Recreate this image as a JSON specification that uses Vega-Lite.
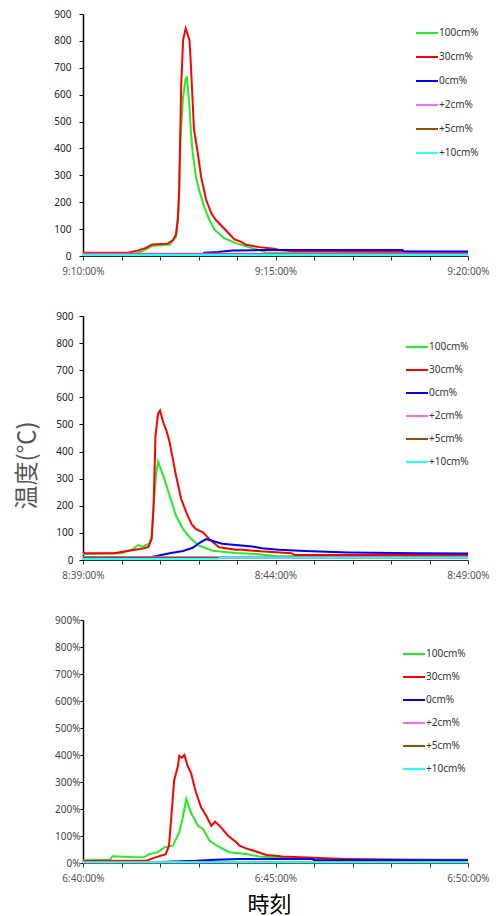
{
  "$schema": "https://vega.github.io/schema/vega-lite/v6.json",
  "background": "white",
  "padding": {"left": 15, "top": 9, "right": 0, "bottom": 0},
  "spacing": 35,
  "resolve": {"scale": {"color": "independent"}},
  "config": {
    "view": {"stroke": null},
    "axis": {"labelFont": "Noto Sans", "titleFont": "Noto Sans CJK JP", "grid": false, "titleFontWeight": "normal"},
    "legend": {"title": null, "orient": "none", "symbolType": "stroke", "symbolSize": 484, "symbolStrokeWidth": 2, "labelFont": "Noto Sans", "labelFontSize": 10, "labelColor": "#333", "labelOffset": 0, "rowPadding": 6, "padding": 0}
  },
  "vconcat": [
    {
      "width": 385, "height": 242,
      "data": {"format": {"parse": {"t": "date:'%H:%M:%S'"}}, "values": [
        {"t":"09:10:00","s":"100cm%","v":8},{"t":"09:11:20","s":"100cm%","v":8},{"t":"09:11:35","s":"100cm%","v":20},{"t":"09:11:48","s":"100cm%","v":38},{"t":"09:12:15","s":"100cm%","v":42},{"t":"09:12:25","s":"100cm%","v":72},{"t":"09:12:29","s":"100cm%","v":183},{"t":"09:12:32","s":"100cm%","v":444},{"t":"09:12:36","s":"100cm%","v":593},{"t":"09:12:40","s":"100cm%","v":660},{"t":"09:12:42","s":"100cm%","v":665},{"t":"09:12:46","s":"100cm%","v":555},{"t":"09:12:48","s":"100cm%","v":469},{"t":"09:12:51","s":"100cm%","v":382},{"t":"09:12:56","s":"100cm%","v":295},{"t":"09:13:01","s":"100cm%","v":245},{"t":"09:13:09","s":"100cm%","v":183},{"t":"09:13:17","s":"100cm%","v":134},{"t":"09:13:25","s":"100cm%","v":97},{"t":"09:13:32","s":"100cm%","v":84},{"t":"09:13:40","s":"100cm%","v":66},{"t":"09:13:59","s":"100cm%","v":47},{"t":"09:14:19","s":"100cm%","v":32},{"t":"09:14:35","s":"100cm%","v":22},{"t":"09:14:45","s":"100cm%","v":13},{"t":"09:15:40","s":"100cm%","v":10},{"t":"09:20:00","s":"100cm%","v":10},
        {"t":"09:10:00","s":"30cm%","v":12},{"t":"09:11:10","s":"30cm%","v":12},{"t":"09:11:25","s":"30cm%","v":20},{"t":"09:11:38","s":"30cm%","v":30},{"t":"09:11:48","s":"30cm%","v":43},{"t":"09:12:12","s":"30cm%","v":46},{"t":"09:12:20","s":"30cm%","v":58},{"t":"09:12:25","s":"30cm%","v":80},{"t":"09:12:28","s":"30cm%","v":140},{"t":"09:12:30","s":"30cm%","v":258},{"t":"09:12:33","s":"30cm%","v":630},{"t":"09:12:36","s":"30cm%","v":803},{"t":"09:12:40","s":"30cm%","v":847},{"t":"09:12:46","s":"30cm%","v":803},{"t":"09:12:48","s":"30cm%","v":717},{"t":"09:12:51","s":"30cm%","v":568},{"t":"09:12:53","s":"30cm%","v":469},{"t":"09:12:59","s":"30cm%","v":382},{"t":"09:13:04","s":"30cm%","v":295},{"t":"09:13:12","s":"30cm%","v":208},{"t":"09:13:20","s":"30cm%","v":159},{"t":"09:13:27","s":"30cm%","v":134},{"t":"09:13:32","s":"30cm%","v":122},{"t":"09:13:43","s":"30cm%","v":95},{"t":"09:13:56","s":"30cm%","v":62},{"t":"09:14:04","s":"30cm%","v":55},{"t":"09:14:14","s":"30cm%","v":42},{"t":"09:14:35","s":"30cm%","v":33},{"t":"09:14:58","s":"30cm%","v":27},{"t":"09:15:06","s":"30cm%","v":22},{"t":"09:15:30","s":"30cm%","v":18},{"t":"09:20:00","s":"30cm%","v":15},
        {"t":"09:10:00","s":"0cm%","v":3},{"t":"09:13:05","s":"0cm%","v":3},{"t":"09:13:09","s":"0cm%","v":12},{"t":"09:13:30","s":"0cm%","v":15},{"t":"09:13:53","s":"0cm%","v":20},{"t":"09:14:35","s":"0cm%","v":22},{"t":"09:18:18","s":"0cm%","v":22},{"t":"09:18:20","s":"0cm%","v":17},{"t":"09:20:00","s":"0cm%","v":17},
        {"t":"09:10:00","s":"+2cm%","v":8},{"t":"09:20:00","s":"+2cm%","v":8},
        {"t":"09:10:00","s":"+5cm%","v":6},{"t":"09:20:00","s":"+5cm%","v":6},
        {"t":"09:10:00","s":"+10cm%","v":4},{"t":"09:20:00","s":"+10cm%","v":4}
      ]},
      "mark": {"type": "line", "strokeWidth": 2},
      "encoding": {
        "x": {"field": "t", "type": "temporal",
          "scale": {"domain": [{"year":1900,"month":1,"date":1,"hours":9,"minutes":10},{"year":1900,"month":1,"date":1,"hours":9,"minutes":20}]},
          "axis": {"title": null, "format": "%-H:%M:%S%%", "labelExpr": "minutes(datum.value) % 5 == 0 ? datum.label : ''",
            "values": [{"year":1900,"month":1,"date":1,"hours":9,"minutes":10},{"year":1900,"month":1,"date":1,"hours":9,"minutes":11},{"year":1900,"month":1,"date":1,"hours":9,"minutes":12},{"year":1900,"month":1,"date":1,"hours":9,"minutes":13},{"year":1900,"month":1,"date":1,"hours":9,"minutes":14},{"year":1900,"month":1,"date":1,"hours":9,"minutes":15},{"year":1900,"month":1,"date":1,"hours":9,"minutes":16},{"year":1900,"month":1,"date":1,"hours":9,"minutes":17},{"year":1900,"month":1,"date":1,"hours":9,"minutes":18},{"year":1900,"month":1,"date":1,"hours":9,"minutes":19},{"year":1900,"month":1,"date":1,"hours":9,"minutes":20}],
            "labelFlush": false, "labelOverlap": false, "labelFontSize": 10, "labelColor": "#555", "tickSize": 4, "labelPadding": 6, "labelDx": 3, "domainColor": "#333", "tickColor": "#333"}},
        "y": {"field": "v", "type": "quantitative", "scale": {"domain": [0, 900]},
          "axis": {"title": null, "values": [0,100,200,300,400,500,600,700,800,900], "labelFontSize": 10, "labelColor": "#222", "tickSize": 4, "labelPadding": 8, "domainColor": "#000", "domainWidth": 1.5, "tickColor": "#000"}},
        "color": {"field": "s", "type": "nominal",
          "scale": {"domain": ["100cm%","30cm%","0cm%","+2cm%","+5cm%","+10cm%"], "range": ["#22ee22","#ff0000","#0000ff","#ff66ff","#994d00","#22ffff"]},
          "legend": {"legendX": 332, "legendY": 7, "symbolSize": 484, "symbolStrokeWidth": 2, "rowPadding": 7, "labelOffset": 0,
            "encode": {"symbols": {"update": {"size": {"value": 484}, "strokeWidth": {"value": 2}}}}}}
      }
    },
    {
      "width": 385, "height": 244,
      "data": {"format": {"parse": {"t": "date:'%H:%M:%S'"}}, "values": [
        {"t":"08:39:00","s":"100cm%","v":22},{"t":"08:40:00","s":"100cm%","v":25},{"t":"08:40:18","s":"100cm%","v":40},{"t":"08:40:26","s":"100cm%","v":55},{"t":"08:40:33","s":"100cm%","v":48},{"t":"08:40:43","s":"100cm%","v":60},{"t":"08:40:47","s":"100cm%","v":84},{"t":"08:40:50","s":"100cm%","v":200},{"t":"08:40:54","s":"100cm%","v":320},{"t":"08:40:57","s":"100cm%","v":363},{"t":"08:41:05","s":"100cm%","v":311},{"t":"08:41:15","s":"100cm%","v":237},{"t":"08:41:25","s":"100cm%","v":163},{"t":"08:41:36","s":"100cm%","v":114},{"t":"08:41:46","s":"100cm%","v":84},{"t":"08:42:01","s":"100cm%","v":53},{"t":"08:42:22","s":"100cm%","v":34},{"t":"08:42:58","s":"100cm%","v":26},{"t":"08:43:30","s":"100cm%","v":22},{"t":"08:44:00","s":"100cm%","v":15},{"t":"08:49:00","s":"100cm%","v":14},
        {"t":"08:39:00","s":"30cm%","v":30},{"t":"08:39:03","s":"30cm%","v":25},{"t":"08:39:48","s":"30cm%","v":25},{"t":"08:40:14","s":"30cm%","v":35},{"t":"08:40:33","s":"30cm%","v":42},{"t":"08:40:42","s":"30cm%","v":48},{"t":"08:40:47","s":"30cm%","v":77},{"t":"08:40:50","s":"30cm%","v":200},{"t":"08:40:53","s":"30cm%","v":459},{"t":"08:40:57","s":"30cm%","v":539},{"t":"08:41:00","s":"30cm%","v":551},{"t":"08:41:05","s":"30cm%","v":508},{"t":"08:41:10","s":"30cm%","v":477},{"t":"08:41:15","s":"30cm%","v":434},{"t":"08:41:20","s":"30cm%","v":373},{"t":"08:41:25","s":"30cm%","v":311},{"t":"08:41:33","s":"30cm%","v":225},{"t":"08:41:41","s":"30cm%","v":176},{"t":"08:41:49","s":"30cm%","v":133},{"t":"08:41:56","s":"30cm%","v":114},{"t":"08:42:07","s":"30cm%","v":102},{"t":"08:42:17","s":"30cm%","v":77},{"t":"08:42:32","s":"30cm%","v":47},{"t":"08:42:58","s":"30cm%","v":38},{"t":"08:43:08","s":"30cm%","v":38},{"t":"08:43:36","s":"30cm%","v":32},{"t":"08:44:25","s":"30cm%","v":25},{"t":"08:44:30","s":"30cm%","v":18},{"t":"08:49:00","s":"30cm%","v":18},
        {"t":"08:39:00","s":"0cm%","v":10},{"t":"08:40:44","s":"0cm%","v":10},{"t":"08:40:55","s":"0cm%","v":15},{"t":"08:41:15","s":"0cm%","v":25},{"t":"08:41:36","s":"0cm%","v":33},{"t":"08:41:51","s":"0cm%","v":45},{"t":"08:42:01","s":"0cm%","v":62},{"t":"08:42:12","s":"0cm%","v":77},{"t":"08:42:22","s":"0cm%","v":70},{"t":"08:42:37","s":"0cm%","v":60},{"t":"08:42:58","s":"0cm%","v":55},{"t":"08:43:24","s":"0cm%","v":50},{"t":"08:43:39","s":"0cm%","v":43},{"t":"08:44:05","s":"0cm%","v":38},{"t":"08:44:46","s":"0cm%","v":33},{"t":"08:45:53","s":"0cm%","v":28},{"t":"08:47:41","s":"0cm%","v":25},{"t":"08:49:00","s":"0cm%","v":24},
        {"t":"08:39:00","s":"+2cm%","v":10},{"t":"08:49:00","s":"+2cm%","v":10},
        {"t":"08:39:00","s":"+5cm%","v":8},{"t":"08:49:00","s":"+5cm%","v":8},
        {"t":"08:39:00","s":"+10cm%","v":4},{"t":"08:42:30","s":"+10cm%","v":5},{"t":"08:42:35","s":"+10cm%","v":8},{"t":"08:49:00","s":"+10cm%","v":8}
      ]},
      "mark": {"type": "line", "strokeWidth": 2},
      "encoding": {
        "x": {"field": "t", "type": "temporal",
          "scale": {"domain": [{"year":1900,"month":1,"date":1,"hours":8,"minutes":39},{"year":1900,"month":1,"date":1,"hours":8,"minutes":49}]},
          "axis": {"title": null, "format": "%-H:%M:%S%%", "labelExpr": "(minutes(datum.value) - 39) % 5 == 0 ? datum.label : ''",
            "values": [{"year":1900,"month":1,"date":1,"hours":8,"minutes":39},{"year":1900,"month":1,"date":1,"hours":8,"minutes":40},{"year":1900,"month":1,"date":1,"hours":8,"minutes":41},{"year":1900,"month":1,"date":1,"hours":8,"minutes":42},{"year":1900,"month":1,"date":1,"hours":8,"minutes":43},{"year":1900,"month":1,"date":1,"hours":8,"minutes":44},{"year":1900,"month":1,"date":1,"hours":8,"minutes":45},{"year":1900,"month":1,"date":1,"hours":8,"minutes":46},{"year":1900,"month":1,"date":1,"hours":8,"minutes":47},{"year":1900,"month":1,"date":1,"hours":8,"minutes":48},{"year":1900,"month":1,"date":1,"hours":8,"minutes":49}],
            "labelFlush": false, "labelOverlap": false, "labelFontSize": 10, "labelColor": "#555", "tickSize": 4, "labelPadding": 6, "labelDx": 3, "domainColor": "#333", "tickColor": "#333"}},
        "y": {"field": "v", "type": "quantitative", "scale": {"domain": [0, 900]},
          "axis": {"title": "温度(℃)", "titleFontSize": 24, "titleColor": "#555", "titleX": -56, "titleY": 149, "titleBaseline": "middle", "titleAlign": "center", "titleAngle": -90,
            "values": [0,100,200,300,400,500,600,700,800,900], "labelFontSize": 10, "labelColor": "#222", "tickSize": 4, "labelPadding": 6, "domainColor": "#000", "domainWidth": 1.5, "tickColor": "#000"}},
        "color": {"field": "s", "type": "nominal",
          "scale": {"domain": ["100cm%","30cm%","0cm%","+2cm%","+5cm%","+10cm%"], "range": ["#22ee22","#ff0000","#0000ff","#ff66ff","#994d00","#22ffff"]},
          "legend": {"legendX": 322, "legendY": 19, "symbolSize": 484, "symbolStrokeWidth": 2, "rowPadding": 6, "labelOffset": 0,
            "encode": {"symbols": {"update": {"size": {"value": 484}, "strokeWidth": {"value": 2}}}}}}
      }
    },
    {
      "width": 385, "height": 243,
      "data": {"format": {"parse": {"t": "date:'%H:%M:%S'"}}, "values": [
        {"t":"06:40:00","s":"100cm%","v":10},{"t":"06:40:42","s":"100cm%","v":12},{"t":"06:40:46","s":"100cm%","v":25},{"t":"06:41:14","s":"100cm%","v":22},{"t":"06:41:35","s":"100cm%","v":21},{"t":"06:41:43","s":"100cm%","v":33},{"t":"06:41:56","s":"100cm%","v":40},{"t":"06:42:07","s":"100cm%","v":58},{"t":"06:42:20","s":"100cm%","v":64},{"t":"06:42:30","s":"100cm%","v":113},{"t":"06:42:35","s":"100cm%","v":163},{"t":"06:42:41","s":"100cm%","v":237},{"t":"06:42:48","s":"100cm%","v":188},{"t":"06:42:59","s":"100cm%","v":138},{"t":"06:43:07","s":"100cm%","v":126},{"t":"06:43:17","s":"100cm%","v":83},{"t":"06:43:30","s":"100cm%","v":62},{"t":"06:43:48","s":"100cm%","v":40},{"t":"06:44:14","s":"100cm%","v":33},{"t":"06:44:35","s":"100cm%","v":24},{"t":"06:45:06","s":"100cm%","v":19},{"t":"06:46:00","s":"100cm%","v":14},{"t":"06:50:00","s":"100cm%","v":12},
        {"t":"06:40:00","s":"30cm%","v":7},{"t":"06:41:38","s":"30cm%","v":8},{"t":"06:41:53","s":"30cm%","v":21},{"t":"06:42:09","s":"30cm%","v":33},{"t":"06:42:14","s":"30cm%","v":64},{"t":"06:42:19","s":"30cm%","v":212},{"t":"06:42:22","s":"30cm%","v":305},{"t":"06:42:28","s":"30cm%","v":360},{"t":"06:42:30","s":"30cm%","v":397},{"t":"06:42:34","s":"30cm%","v":390},{"t":"06:42:38","s":"30cm%","v":400},{"t":"06:42:43","s":"30cm%","v":360},{"t":"06:42:48","s":"30cm%","v":336},{"t":"06:42:56","s":"30cm%","v":262},{"t":"06:43:04","s":"30cm%","v":206},{"t":"06:43:12","s":"30cm%","v":175},{"t":"06:43:20","s":"30cm%","v":138},{"t":"06:43:26","s":"30cm%","v":153},{"t":"06:43:35","s":"30cm%","v":132},{"t":"06:43:46","s":"30cm%","v":101},{"t":"06:43:59","s":"30cm%","v":77},{"t":"06:44:04","s":"30cm%","v":64},{"t":"06:44:14","s":"30cm%","v":54},{"t":"06:44:25","s":"30cm%","v":46},{"t":"06:44:46","s":"30cm%","v":30},{"t":"06:45:11","s":"30cm%","v":24},{"t":"06:45:58","s":"30cm%","v":19},{"t":"06:46:50","s":"30cm%","v":15},{"t":"06:48:08","s":"30cm%","v":12},{"t":"06:50:00","s":"30cm%","v":10},
        {"t":"06:40:00","s":"0cm%","v":4},{"t":"06:42:00","s":"0cm%","v":4},{"t":"06:42:56","s":"0cm%","v":8},{"t":"06:43:26","s":"0cm%","v":12},{"t":"06:44:04","s":"0cm%","v":15},{"t":"06:45:58","s":"0cm%","v":15},{"t":"06:46:00","s":"0cm%","v":10},{"t":"06:50:00","s":"0cm%","v":10},
        {"t":"06:40:00","s":"+2cm%","v":3},{"t":"06:50:00","s":"+2cm%","v":4},
        {"t":"06:40:00","s":"+5cm%","v":2},{"t":"06:50:00","s":"+5cm%","v":2},
        {"t":"06:40:00","s":"+10cm%","v":3},{"t":"06:50:00","s":"+10cm%","v":3}
      ]},
      "mark": {"type": "line", "strokeWidth": 2},
      "encoding": {
        "x": {"field": "t", "type": "temporal",
          "scale": {"domain": [{"year":1900,"month":1,"date":1,"hours":6,"minutes":40},{"year":1900,"month":1,"date":1,"hours":6,"minutes":50}]},
          "axis": {"title": "時刻", "titleFontSize": 22, "titleColor": "#000", "titleX": 186, "titleY": 41, "titleBaseline": "middle", "titleAlign": "center",
            "format": "%-H:%M:%S%%", "labelExpr": "minutes(datum.value) % 5 == 0 ? datum.label : ''",
            "values": [{"year":1900,"month":1,"date":1,"hours":6,"minutes":40},{"year":1900,"month":1,"date":1,"hours":6,"minutes":41},{"year":1900,"month":1,"date":1,"hours":6,"minutes":42},{"year":1900,"month":1,"date":1,"hours":6,"minutes":43},{"year":1900,"month":1,"date":1,"hours":6,"minutes":44},{"year":1900,"month":1,"date":1,"hours":6,"minutes":45},{"year":1900,"month":1,"date":1,"hours":6,"minutes":46},{"year":1900,"month":1,"date":1,"hours":6,"minutes":47},{"year":1900,"month":1,"date":1,"hours":6,"minutes":48},{"year":1900,"month":1,"date":1,"hours":6,"minutes":49},{"year":1900,"month":1,"date":1,"hours":6,"minutes":50}],
            "labelFlush": false, "labelOverlap": false, "labelFontSize": 10, "labelColor": "#555", "tickSize": 4, "labelPadding": 6, "labelDx": 3, "domainColor": "#333", "tickColor": "#333"}},
        "y": {"field": "v", "type": "quantitative", "scale": {"domain": [0, 900]},
          "axis": {"title": null, "values": [0,100,200,300,400,500,600,700,800,900], "labelExpr": "datum.value + '%'", "labelFontSize": 10, "labelColor": "#444", "tickSize": 3, "labelPadding": 0, "domainColor": "#000", "domainWidth": 1.5, "tickColor": "#000"}},
        "color": {"field": "s", "type": "nominal",
          "scale": {"domain": ["100cm%","30cm%","0cm%","+2cm%","+5cm%","+10cm%"], "range": ["#22ee22","#ff0000","#0000ff","#ff66ff","#994d00","#22ffff"]},
          "legend": {"legendX": 319, "legendY": 22, "symbolSize": 484, "symbolStrokeWidth": 2, "rowPadding": 6, "labelOffset": 0,
            "encode": {"symbols": {"update": {"size": {"value": 484}, "strokeWidth": {"value": 2}}}}}}
      }
    }
  ]
}
